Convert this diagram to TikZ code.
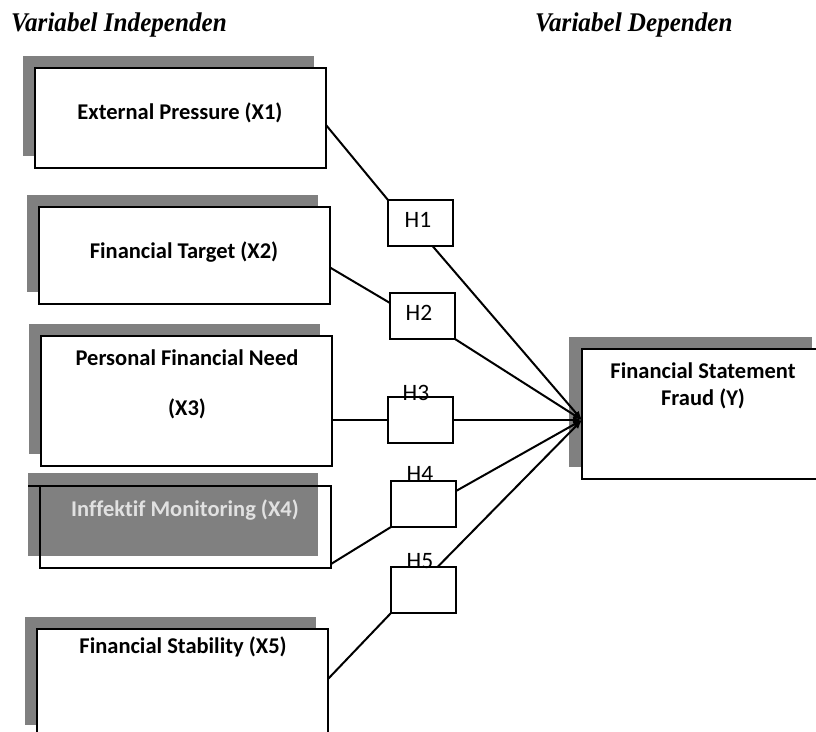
\documentclass[tikz,border=0pt]{standalone}
\usepackage{fontspec}
\setmainfont[Ligatures=NoCommon]{Carlito}
\newfontfamily\headfont{Liberation Serif Bold Italic}
\usetikzlibrary{shadows,calc,arrows.meta}
\definecolor{shadowgrey}{RGB}{128,128,128}
\definecolor{palegrey}{RGB}{225,225,225}
\newcommand\headtext[1]{\scalebox{0.93}[1]{#1}}

\begin{document}
\begin{tikzpicture}[x=1pt,y=-1pt,
  varbox/.style={draw,line width=1.5pt,fill=white,inner sep=0pt,outer sep=0pt,
    anchor=north west,minimum width=291pt,
    general shadow={fill=shadowgrey,shadow xshift=-12pt,shadow yshift=12pt}},
  hbox/.style={draw,line width=1.5pt,fill=white,inner sep=0pt,outer sep=0pt,
    minimum width=65pt,minimum height=46pt},
  varlbl/.style={inner sep=0pt,font=\bfseries\fontsize{22.5}{27}\selectfont,align=center},
  hlbl/.style={inner sep=0pt,font=\fontsize{23.5}{27}\selectfont},
  headlbl/.style={inner sep=0pt,anchor=base west,font=\headfont\fontsize{27}{32}\selectfont},
  link/.style={line width=2pt},
  tolink/.style={link,-{Latex[length=9pt,width=7pt]}}]
\clip (0,0) rectangle (816,731);

\node[headlbl] (indep) at (11,31) {\headtext{Variabel Independen}};
\node[headlbl] (dep) at (535,31) {\headtext{Variabel Dependen}};

\node[varbox,minimum height=100pt] (x1) at (35,68) {};
\node[varbox,minimum height=97pt] (x2) at (39,207) {};
\node[varbox,minimum height=130pt] (x3) at (41,336) {};
\node[fill=shadowgrey,inner sep=0pt,outer sep=0pt,anchor=north west,
  minimum width=290pt,minimum height=83pt] (x4s) at (28,473) {};
\node[draw,line width=1.5pt,inner sep=0pt,outer sep=0pt,anchor=north west,
  minimum width=291pt,minimum height=82pt] (x4) at (40,486) {};
\draw[line width=1.5pt] (x4s.west |- x4.north) -- (x4.north west);
\node[varbox,minimum height=108pt] (x5) at (37,629) {};
\node[varbox,minimum width=242pt,minimum height=130pt,
  general shadow={fill=shadowgrey,shadow xshift=-13pt,shadow yshift=12pt}] (fy) at (582,349) {};

\node[varlbl] (x1t) at (180,113) {External Pressure (X1)};
\node[varlbl] (x2t) at (184,252) {Financial Target (X2)};
\node[varlbl] (x3t) at (187,358) {Personal Financial Need};
\node[varlbl] (x3n) at (187,409) {(X3)};
\node[varlbl,text=palegrey] (x4t) at (185,510) {Inffektif Monitoring (X4)};
\node[varlbl] (x5t) at (183,647) {Financial Stability (X5)};
\node[varlbl] (fyt) at (703,385.5) {Financial Statement\\Fraud (Y)};

\node[hbox] (h1) at (420.5,223) {};
\node[hbox] (h2) at (422.5,316) {};
\node[hbox] (h3) at (420.5,420) {};
\node[hbox] (h4) at (423.5,504) {};
\node[hbox] (h5) at (423.5,590) {};
\node[hlbl] (h1t) at (418,220) {H1};
\node[hlbl] (h2t) at (419,313) {H2};
\node[hlbl] (h3t) at (416,393) {H3};
\node[hlbl] (h4t) at (420,474) {H4};
\node[hlbl] (h5t) at (420,561) {H5};

\coordinate (tip) at (582,420);

\draw[link] ($(x1.east)+(0,7)$) -- (h1.north west);
\draw[link] ($(x2.east)+(0,12)$) -- ($(h2.north west)+(0,10)$);
\draw[link] (x3.east |- h3.west) -- (h3.west);
\draw[link] ($(x4.south east)+(0,-4)$) -- (h4.south west);
\draw[link] ($(x5.east)+(0,-4)$) -- (h5.south west);

\draw[tolink] ($(h1.south)+(12,0)$) -- (tip);
\draw[tolink] (h2.south east) -- (tip);
\draw[tolink] (h3.east) -- (tip);
\draw[tolink] ($(h4.east)+(0,-13)$) -- (tip);
\draw[tolink] ($(h5.north)+(14,0)$) -- (tip);
\end{tikzpicture}
\end{document}
